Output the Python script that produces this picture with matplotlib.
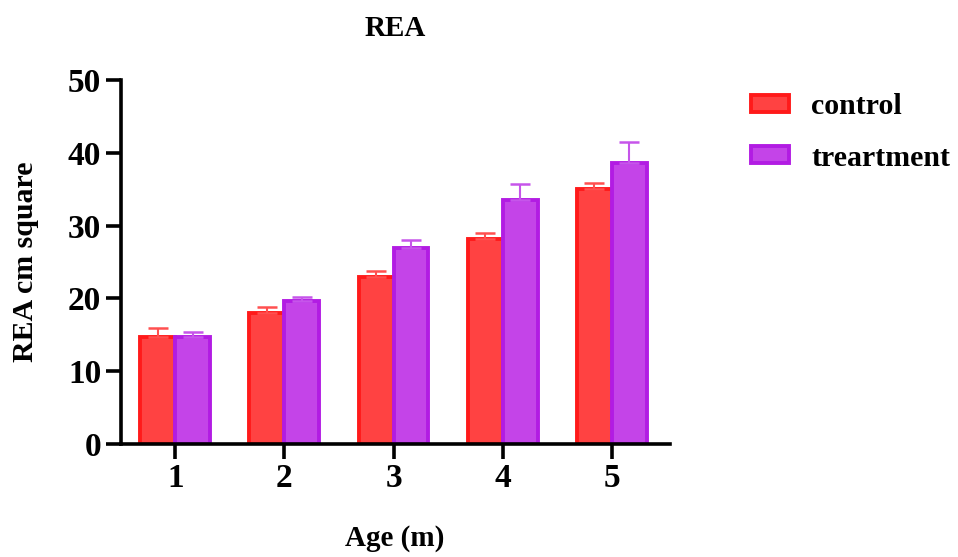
import matplotlib
matplotlib.use("Agg")
import matplotlib.pyplot as plt
import numpy as np
from matplotlib.patches import Patch

ages = ["1", "2", "3", "4", "5"]
control = [14.7, 18.0, 23.0, 28.2, 35.1]
control_err = [1.2, 0.8, 0.8, 0.8, 0.8]
treatment = [14.7, 19.6, 27.0, 33.5, 38.6]
treatment_err = [0.7, 0.6, 1.0, 2.2, 2.9]
series_names = ["control", "treartment"]

plt.rcParams["font.family"] = ["Liberation Serif", "DejaVu Serif"]
plt.rcParams["font.weight"] = "bold"

red_face, red_edge = "#FF4242", "#FF1A1A"
pur_face, pur_edge = "#C444E8", "#B21CE3"

fig = plt.figure(figsize=(9.58, 5.57), dpi=100)
ax = fig.add_axes([0.126, 0.203, 0.573, 0.653])

x = np.arange(len(ages))
w = 0.32
ax.bar(x - w / 2, control, width=w, color=red_face, edgecolor=red_edge, linewidth=2.8,
       yerr=[np.zeros(5), control_err], ecolor="#FF5050",
       error_kw=dict(elinewidth=1.5, capsize=7, capthick=1.8), zorder=2)
ax.bar(x + w / 2, treatment, width=w, color=pur_face, edgecolor=pur_edge, linewidth=2.8,
       yerr=[np.zeros(5), treatment_err], ecolor="#C655EA",
       error_kw=dict(elinewidth=1.5, capsize=7, capthick=1.8), zorder=2)

ax.set_xlim(-0.5, 4.53)
ax.set_ylim(0, 50)
ax.set_yticks([0, 10, 20, 30, 40, 50])
ax.set_xticks(x)
ax.set_xticklabels(ages)

for s in ["top", "right"]:
    ax.spines[s].set_visible(False)
for s in ["left", "bottom"]:
    ax.spines[s].set_linewidth(2.6)
ax.tick_params(axis="both", width=2.6, length=11, labelsize=24, pad=3)
for lbl in ax.get_xticklabels() + ax.get_yticklabels():
    lbl.set_fontweight("bold")

ax.set_title("REA", fontsize=21, fontweight="bold", pad=32)
ax.set_xlabel("Age (m)", fontsize=21, fontweight="bold", labelpad=22)
ax.set_ylabel("REA cm square", fontsize=21.5, fontweight="bold", labelpad=21)

handles = [Patch(facecolor=red_face, edgecolor=red_edge, linewidth=2.8),
           Patch(facecolor=pur_face, edgecolor=pur_edge, linewidth=2.8)]
fig.legend(handles, series_names, loc="upper left", bbox_to_anchor=(0.784, 0.833),
           frameon=False, prop=dict(size=21.5, weight="bold"),
           handlelength=1.27, handleheight=0.5, labelspacing=0.82, handletextpad=0.75,
           borderaxespad=0, borderpad=0)

fig.savefig("out.png", dpi=100)
